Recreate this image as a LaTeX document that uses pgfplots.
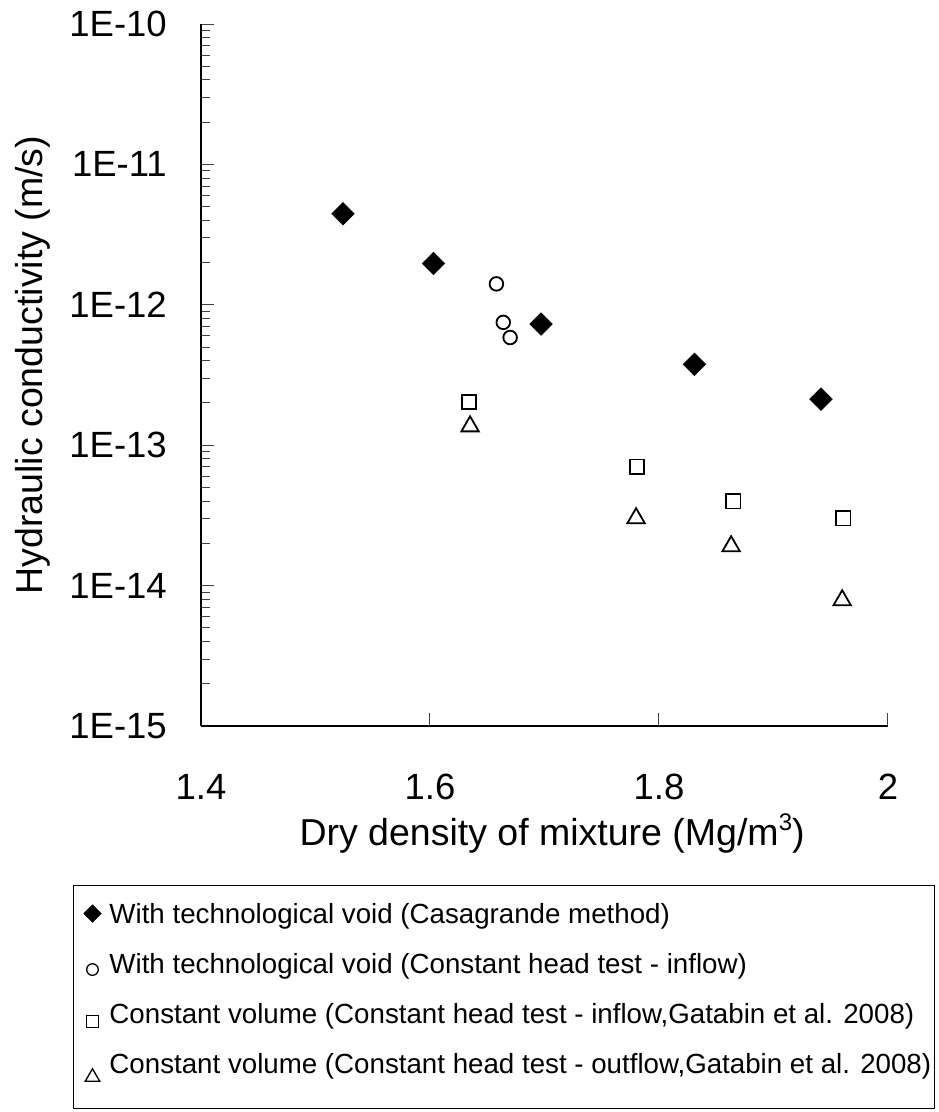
\documentclass[border=0pt]{standalone}
\usepackage{fontspec}
\setmainfont{Liberation Sans}
\usepackage{pgfplots}
\pgfplotsset{compat=1.18}

% 1pt here stands for 1px of the reference (938 x 1112)
\newcommand{\tickfont}{\fontsize{36.5}{40}\selectfont}
\newcommand{\labfont}{\fontsize{37.5}{42}\selectfont}
\newcommand{\legfont}{\fontsize{27.7}{32}\selectfont}

\begin{document}
\begin{tikzpicture}
\useasboundingbox (-201pt,-386pt) rectangle (737pt,726pt);
\begin{axis}[
  at={(0pt,0pt)}, anchor=south west,
  scale only axis,
  width=687pt, height=702pt,
  xmin=1.4, xmax=2,
  ymode=log, ymin=1e-15, ymax=1e-10,
  axis x line*=bottom, axis y line*=left,
  axis line style={black, line width=1.2pt},
  xtick={1.4,1.6,1.8,2},
  xticklabels={1.4,1.6,1.8,2},
  ytick={1e-15,1e-14,1e-13,1e-12,1e-11,1e-10},
  yticklabels={1E-15,1E-14,1E-13,1E-12,1E-11,1E-10},
  minor ytick={2e-15,3e-15,4e-15,5e-15,6e-15,7e-15,8e-15,9e-15,
               2e-14,3e-14,4e-14,5e-14,6e-14,7e-14,8e-14,9e-14,
               2e-13,3e-13,4e-13,5e-13,6e-13,7e-13,8e-13,9e-13,
               2e-12,3e-12,4e-12,5e-12,6e-12,7e-12,8e-12,9e-12,
               2e-11,3e-11,4e-11,5e-11,6e-11,7e-11,8e-11,9e-11},
  tick align=inside,
  major tick length=13pt, minor tick length=9pt,
  tick style={black!75, line width=1pt},
  xticklabel style={font=\tickfont, anchor=north, inner sep=0pt, yshift=-48pt},
  yticklabel style={font=\tickfont, anchor=east, inner sep=0pt, xshift=-34pt},
  xlabel={Dry density of mixture (Mg/m\raisebox{15pt}{\fontsize{24}{24}\selectfont 3})},
  ylabel={Hydraulic conductivity (m/s)},
  xlabel style={font=\labfont, at={(axis description cs:0.511,-0.1695)}, anchor=base},
  ylabel style={font=\labfont, at={(axis description cs:-0.2300,0.5142)}, anchor=base},
  clip=false,
  legend cell align=left,
  legend style={at={(axis description cs:-0.18632,-0.22650)}, anchor=north west,
    draw=black, line width=1pt, inner xsep=3pt, inner ysep=18pt,
    font=\legfont, row sep=13pt, column sep=8pt,
    nodes={inner sep=0pt, text height=20pt, text depth=17pt}},
]
\addplot[only marks, mark=square*, mark size=8pt,
  mark options={rotate=45, draw=black, fill=black, line width=0.5pt},
  legend image code/.code={
    \path[draw=none, fill=none] (-16pt,-18pt) rectangle (9pt,18pt);
    \draw[black, fill=black, line width=0.5pt] plot[only marks, mark=square*, mark size=6.2pt,
      mark options={rotate=45}] coordinates {(0pt,8.5pt)};}]
coordinates {
  (1.524,4.45e-12) (1.603,1.97e-12) (1.697,7.3e-13) (1.831,3.77e-13) (1.9415,2.13e-13)
};
\addlegendentry{With technological void (Casagrande method)}
\addplot[only marks, mark=o, mark size=6.8pt, line width=1.8pt, black,
  legend image code/.code={
    \path[draw=none, fill=none] (-16pt,-18pt) rectangle (9pt,18pt);
    \draw[black, line width=1.3pt] plot[only marks, mark=o, mark size=5.8pt] coordinates {(0pt,2.5pt)};}]
coordinates {
  (1.658,1.41e-12) (1.664,7.5e-13) (1.670,5.85e-13)
};
\addlegendentry{With technological void (Constant head test - inflow)}
\addplot[only marks, mark=square, mark size=7.1pt, line width=1.8pt, black,
  legend image code/.code={
    \path[draw=none, fill=none] (-16pt,-18pt) rectangle (9pt,18pt);
    \draw[black, line width=1.3pt] plot[only marks, mark=square, mark size=6.2pt] coordinates {(0pt,0.5pt)};}]
coordinates {
  (1.634,2.03e-13) (1.781,7.05e-14) (1.865,3.98e-14) (1.961,3.01e-14)
};
\addlegendentry{Constant volume (Constant head test - inflow,Gatabin et al. 2008)}
\addplot[only marks, mark=triangle, mark size=10pt, line width=1.8pt, black,
  mark options={yshift=-2.5pt},
  legend image code/.code={
    \path[draw=none, fill=none] (-16pt,-18pt) rectangle (9pt,18pt);
    \draw[black, line width=1.3pt] plot[only marks, mark=triangle, mark size=8.3pt] coordinates {(0pt,-2.5pt)};}]
coordinates {
  (1.635,1.42e-13) (1.780,3.15e-14) (1.863,1.99e-14) (1.960,8.2e-15)
};
\addlegendentry{Constant volume (Constant head test - outflow,Gatabin et al. 2008)}
\end{axis}
\end{tikzpicture}
\end{document}
